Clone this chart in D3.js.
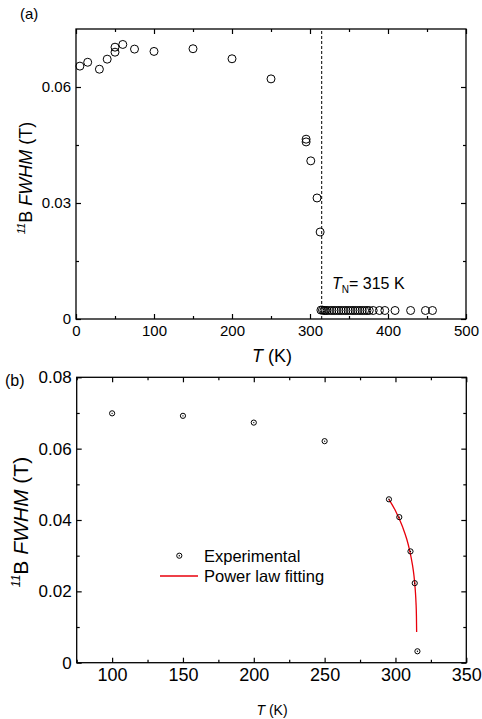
<!DOCTYPE html>
<html><head><meta charset="utf-8">
<script src="https://cdn.jsdelivr.net/npm/d3@7"></script>
<style>
body{margin:0;background:#fff}
text{font-family:"Liberation Sans",Arial,sans-serif;fill:#000}
</style>
</head><body>
<svg id="c" width="482" height="719"></svg>
<script>
// ---------- Panel (a) data ----------
const tempA = [5,15,30,40,50,50,60,75,100,150,200,250,295,295,301,309,313,
  314,316,318,320,322,325,328,331,334,337,340,343,346,349,352,355,358,361,364,367,370,373,376,381,389,396,409,429,448,457];
const fwhmA = [0.0654,0.0664,0.0646,0.0672,0.0703,0.0690,0.0710,0.0698,0.0692,0.0699,0.0673,0.0621,0.0465,0.0458,0.0409,0.0313,0.0225,
  0.0023,0.0023,0.0022,0.0022,0.0022,0.0022,0.0022,0.0022,0.0022,0.0022,0.0022,0.0022,0.0022,0.0022,0.0022,0.0022,0.0022,0.0022,0.0022,0.0022,0.0022,0.0022,0.0022,0.0022,0.0022,0.0022,0.0022,0.0022,0.0022,0.0022];
const TN = 315;
const xTicksA = [0,100,200,300,400,500];
const xMinorA = [50,150,250,350,450];
const yTicksA = [0,0.03,0.06];
const yMinorA = [0.015,0.045];

// ---------- Panel (b) data ----------
const tempB = [100,150,200,250,295.4,302.7,310.6,313.6,315.5];
const fwhmB = [0.0699,0.0692,0.0673,0.0621,0.0458,0.0408,0.0312,0.0223,0.0032];
const fitT = [295.4,300,305,308,310,312,313,314,314.5,314.8,314.95];
const fitV = [0.0458,0.0426,0.0381,0.0346,0.0315,0.0274,0.0246,0.0203,0.0168,0.0131,0.0086];
const xTicksB = [100,150,200,250,300,350];
const xMinorB = [75,125,175,225,275,325];
const yTicksB = [0,0.02,0.04,0.06,0.08];
const yMinorB = [0.01,0.03,0.05,0.07];
const legendLabels = ["Experimental","Power law fitting"];

const svg = d3.select("#c");

function frame(g, x, y, xt, xm, yt, ym, fmtY, fsX, fsY){
  const [x0,x1] = x.range(), [y0,y1] = y.range();
  const styleAx = s => { s.select(".domain").remove(); s.selectAll("line").attr("stroke","#000").attr("stroke-width",1.2); };
  // bottom
  g.append("g").attr("transform",`translate(0,${y0})`)
    .call(d3.axisBottom(x).tickValues(xt).tickSize(-5).tickPadding(6).tickFormat(d3.format("d")))
    .call(styleAx).call(s=>s.selectAll("text").attr("font-size",fsX).attr("font-family","Liberation Sans"));
  g.append("g").attr("transform",`translate(0,${y0})`)
    .call(d3.axisBottom(x).tickValues(xm).tickSize(-3).tickFormat("")).call(styleAx);
  // top
  g.append("g").attr("transform",`translate(0,${y1})`)
    .call(d3.axisTop(x).tickValues(xt).tickSize(-5).tickFormat("")).call(styleAx);
  g.append("g").attr("transform",`translate(0,${y1})`)
    .call(d3.axisTop(x).tickValues(xm).tickSize(-3).tickFormat("")).call(styleAx);
  // left
  g.append("g").attr("transform",`translate(${x0},0)`)
    .call(d3.axisLeft(y).tickValues(yt).tickSize(-5).tickPadding(5).tickFormat(fmtY))
    .call(styleAx).call(s=>s.selectAll("text").attr("font-size",fsY).attr("font-family","Liberation Sans"));
  g.append("g").attr("transform",`translate(${x0},0)`)
    .call(d3.axisLeft(y).tickValues(ym).tickSize(-3).tickFormat("")).call(styleAx);
  // right
  g.append("g").attr("transform",`translate(${x1},0)`)
    .call(d3.axisRight(y).tickValues(yt).tickSize(-5).tickFormat("")).call(styleAx);
  g.append("g").attr("transform",`translate(${x1},0)`)
    .call(d3.axisRight(y).tickValues(ym).tickSize(-3).tickFormat("")).call(styleAx);
  g.append("rect").attr("x",x0).attr("y",y1).attr("width",x1-x0).attr("height",y0-y1)
    .attr("fill","none").attr("stroke","#000").attr("stroke-width",1.3);
}

const fmtY = d => d===0 ? "0" : d3.format(".2f")(d);

// ---------- Panel (a) ----------
const xa = d3.scaleLinear().domain([0,500]).range([76,466]);
const ya = d3.scaleLinear().domain([0,0.075]).range([319,29]);
const ga = svg.append("g");
frame(ga, xa, ya, xTicksA, xMinorA, yTicksA, yMinorA, fmtY, 15, 15);
ga.append("line").attr("x1",xa(TN)).attr("x2",xa(TN)).attr("y1",ya(0)).attr("y2",ya(0.075))
  .attr("stroke","#000").attr("stroke-width",1).attr("stroke-dasharray","3,2");
ga.append("g").selectAll("circle").data(tempA.map((t,i)=>[t,fwhmA[i]])).join("circle")
  .attr("cx",d=>xa(d[0])).attr("cy",d=>ya(d[1])).attr("r",4)
  .attr("fill","none").attr("stroke","#000").attr("stroke-width",1);
const tn = ga.append("text").attr("x",332).attr("y",289).attr("font-size",16);
tn.append("tspan").attr("font-style","italic").text("T");
tn.append("tspan").attr("font-size",10).attr("dy",4).text("N");
tn.append("tspan").attr("dy",-4).text("= 315 K");
ga.append("text").attr("x",20).attr("y",19).attr("font-size",15).text("(a)");
const xla = ga.append("text").attr("x",272).attr("y",362).attr("text-anchor","middle").attr("font-size",18);
xla.append("tspan").attr("font-style","italic").text("T");
xla.append("tspan").text(" (K)");
const yla = ga.append("text").attr("transform","translate(32,178) rotate(-90)").attr("text-anchor","middle").attr("font-size",18);
yla.append("tspan").attr("font-size",11).attr("font-style","italic").attr("dy",-7).text("11");
yla.append("tspan").attr("dy",7).text("B ");
yla.append("tspan").attr("font-style","italic").text("FWHM");
yla.append("tspan").text(" (T)");

// ---------- Panel (b) ----------
const xb = d3.scaleLinear().domain([75,350]).range([76.7,466.3]);
const yb = d3.scaleLinear().domain([0,0.08]).range([662.7,377.3]);
const gb = svg.append("g");
frame(gb, xb, yb, xTicksB, xMinorB, yTicksB, yMinorB, fmtY, 18, 17);
gb.append("path").datum(fitT.map((t,i)=>[t,fitV[i]]))
  .attr("d", d3.line().x(d=>xb(d[0])).y(d=>yb(d[1])).curve(d3.curveMonotoneX))
  .attr("fill","none").attr("stroke","#e8000b").attr("stroke-width",1.3);
const ptsB = gb.append("g").selectAll("g").data(tempB.map((t,i)=>[t,fwhmB[i]])).join("g")
  .attr("transform",d=>`translate(${xb(d[0])},${yb(d[1])})`);
ptsB.append("circle").attr("r",2.6).attr("fill","none").attr("stroke","#000").attr("stroke-width",1);
ptsB.append("circle").attr("r",0.7).attr("fill","#000");
// legend
const lg = gb.append("g");
lg.append("circle").attr("cx",179.3).attr("cy",555.7).attr("r",2.6).attr("fill","none").attr("stroke","#000");
lg.append("circle").attr("cx",179.3).attr("cy",555.7).attr("r",0.7).attr("fill","#000");
lg.append("line").attr("x1",160).attr("x2",198).attr("y1",576).attr("y2",576).attr("stroke","#e8000b").attr("stroke-width",1.3);
lg.append("text").attr("x",204).attr("y",561.5).attr("font-size",16.5).text(legendLabels[0]);
lg.append("text").attr("x",204).attr("y",582).attr("font-size",16.5).text(legendLabels[1]);
gb.append("text").attr("x",5).attr("y",386).attr("font-size",16).text("(b)");
const xlb = gb.append("text").attr("x",272).attr("y",715).attr("text-anchor","middle").attr("font-size",14);
xlb.append("tspan").attr("font-style","italic").text("T");
xlb.append("tspan").text(" (K)");
const ylb = gb.append("text").attr("transform","translate(28,522) rotate(-90)").attr("text-anchor","middle").attr("font-size",21);
ylb.append("tspan").attr("font-size",12).attr("font-style","italic").attr("dy",-8).text("11");
ylb.append("tspan").attr("dy",8).text("B ");
ylb.append("tspan").attr("font-style","italic").text("FWHM");
ylb.append("tspan").text(" (T)");
</script>
</body></html>
